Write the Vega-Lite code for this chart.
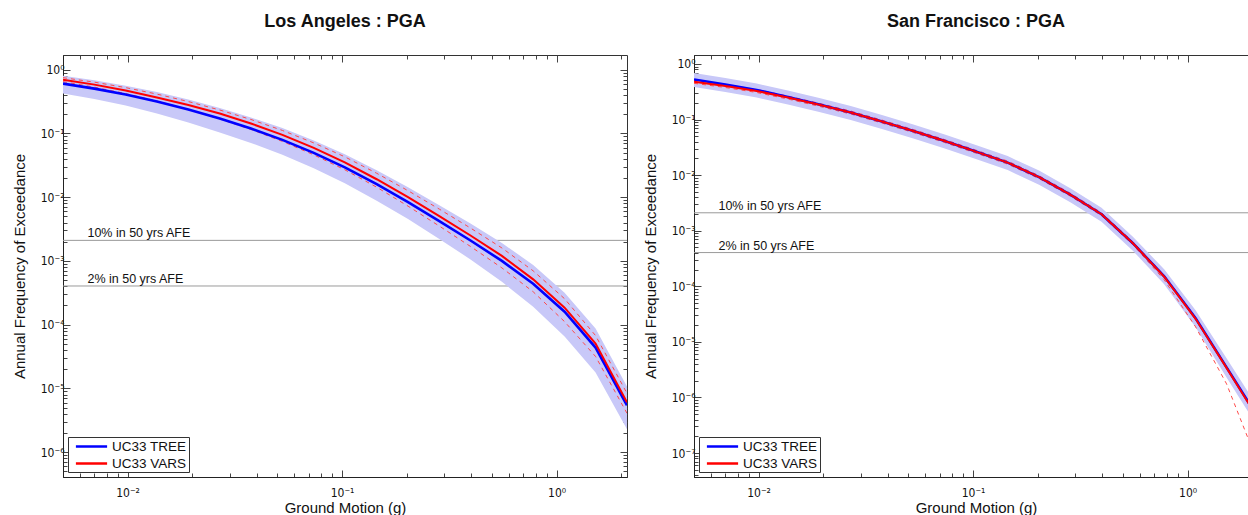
{
  "$schema": "https://vega.github.io/schema/vega-lite/v6.json",
  "padding": {"left": 11, "top": 12, "right": 0, "bottom": 0},
  "background": "white",
  "config": {
    "font": "Liberation Sans",
    "view": {"stroke": "#333", "strokeWidth": 1},
    "axis": {"grid": false, "labelFont": "DejaVu Sans Condensed", "labelFontSize": 12, "labelColor": "#111", "titleFont": "Liberation Sans", "titleFontSize": 15, "titleFontWeight": "normal", "titleColor": "#111", "domainColor": "#222", "tickColor": "#444"},
    "legend": {"orient": "bottom-left", "offset": 5, "strokeColor": "#333", "fillColor": "#ffffff", "padding": 2, "labelFont": "Liberation Sans", "labelFontSize": 13.5, "labelColor": "#111", "symbolType": "M-2.6,0H2.6", "symbolStrokeWidth": 2.5, "symbolSize": 144, "symbolOffset": 14, "rowPadding": 3, "labelOffset": 13, "cornerRadius": 0},
    "title": {"font": "Liberation Sans", "fontSize": 18, "fontWeight": "bold", "color": "#111", "offset": 24}
  },
  "datasets": {
    "curves": [
      {"city": "LA", "g": 0.005, "tree": 0.604, "vars": 0.6978, "lo": 0.4217, "hi": 0.8058, "dhi": 0.7499, "dlo": 0.6494},
      {"city": "LA", "g": 0.007, "tree": 0.505, "vars": 0.5829, "lo": 0.346, "hi": 0.6854, "dhi": 0.6379, "dlo": 0.5328},
      {"city": "LA", "g": 0.0098, "tree": 0.407, "vars": 0.4698, "lo": 0.2738, "hi": 0.5623, "dhi": 0.5233, "dlo": 0.4217},
      {"city": "LA", "g": 0.0137, "tree": 0.3162, "vars": 0.3652, "lo": 0.20535, "hi": 0.4451, "dhi": 0.4142, "dlo": 0.3219},
      {"city": "LA", "g": 0.0192, "tree": 0.2371, "vars": 0.2788, "lo": 0.1486, "hi": 0.3398, "dhi": 0.3162, "dlo": 0.2371},
      {"city": "LA", "g": 0.0269, "tree": 0.1716, "vars": 0.20535, "lo": 0.10366, "hi": 0.2503, "dhi": 0.23295, "dlo": 0.1685},
      {"city": "LA", "g": 0.0376, "tree": 0.1197, "vars": 0.14335, "lo": 0.07104, "hi": 0.1778, "dhi": 0.1655, "dlo": 0.11548},
      {"city": "LA", "g": 0.0527, "tree": 0.07914, "vars": 0.09476, "lo": 0.04614, "hi": 0.1219, "dhi": 0.11139, "dlo": 0.07499},
      {"city": "LA", "g": 0.0738, "tree": 0.04958, "vars": 0.05935, "lo": 0.02838, "hi": 0.07773, "dhi": 0.07104, "dlo": 0.04614},
      {"city": "LA", "g": 0.103, "tree": 0.02942, "vars": 0.035225, "lo": 0.016548, "hi": 0.04698, "dhi": 0.04294, "dlo": 0.0269},
      {"city": "LA", "g": 0.145, "tree": 0.015965, "vars": 0.019107, "lo": 0.008818, "hi": 0.02642, "dhi": 0.02371, "dlo": 0.014335},
      {"city": "LA", "g": 0.203, "tree": 0.008354, "vars": 0.01, "lo": 0.004532, "hi": 0.014335, "dhi": 0.012635, "dlo": 0.007233},
      {"city": "LA", "g": 0.284, "tree": 0.004217, "vars": 0.005048, "lo": 0.002207, "hi": 0.007499, "dhi": 0.006494, "dlo": 0.0035225},
      {"city": "LA", "g": 0.397, "tree": 0.0020906, "vars": 0.002503, "lo": 0.0010554, "hi": 0.003854, "dhi": 0.003278, "dlo": 0.001685},
      {"city": "LA", "g": 0.556, "tree": 0.001, "vars": 0.0011972, "lo": 0.0004698, "hi": 0.0019107, "dhi": 0.0015965, "dlo": 0.0007773},
      {"city": "LA", "g": 0.778, "tree": 0.0004371, "vars": 0.00051395, "lo": 0.00019107, "hi": 0.000866, "dhi": 0.0006978, "dlo": 0.0003278},
      {"city": "LA", "g": 1.09, "tree": 0.00015965, "vars": 0.0001843, "lo": 0.00006494, "hi": 0.00031623, "dhi": 0.00025485, "dlo": 0.00011139},
      {"city": "LA", "g": 1.52, "tree": 0.00004371, "vars": 0.00005048, "lo": 0.00001778, "hi": 0.0000866, "dhi": 0.00006732, "dlo": 0.00003162},
      {"city": "LA", "g": 2.13, "tree": 0.000005425, "vars": 0.00000604, "lo": 0.000002288, "hi": 0.000010746, "dhi": 0.000008354, "dlo": 0.000004068},
      {"city": "SF", "g": 0.005, "tree": 0.5255, "vars": 0.4779, "lo": 0.3852, "hi": 0.6884, "dhi": 0.5085, "dlo": 0.4492},
      {"city": "SF", "g": 0.007, "tree": 0.4272, "vars": 0.4014, "lo": 0.313, "hi": 0.5594, "dhi": 0.4271, "dlo": 0.3773},
      {"city": "SF", "g": 0.0098, "tree": 0.3401, "vars": 0.3262, "lo": 0.2491, "hi": 0.4453, "dhi": 0.3471, "dlo": 0.3066},
      {"city": "SF", "g": 0.0137, "tree": 0.2543, "vars": 0.2491, "lo": 0.1864, "hi": 0.3331, "dhi": 0.265, "dlo": 0.2341},
      {"city": "SF", "g": 0.0192, "tree": 0.1864, "vars": 0.184, "lo": 0.13648, "hi": 0.244, "dhi": 0.1958, "dlo": 0.1729},
      {"city": "SF", "g": 0.0269, "tree": 0.1337, "vars": 0.1337, "lo": 0.09795, "hi": 0.1751, "dhi": 0.1423, "dlo": 0.1257},
      {"city": "SF", "g": 0.0376, "tree": 0.092, "vars": 0.092, "lo": 0.06743, "hi": 0.12054, "dhi": 0.0979, "dlo": 0.08647},
      {"city": "SF", "g": 0.0527, "tree": 0.0621, "vars": 0.0621, "lo": 0.04546, "hi": 0.08126, "dhi": 0.0661, "dlo": 0.05836},
      {"city": "SF", "g": 0.0738, "tree": 0.041, "vars": 0.041, "lo": 0.03002, "hi": 0.05366, "dhi": 0.0436, "dlo": 0.03853},
      {"city": "SF", "g": 0.103, "tree": 0.02651, "vars": 0.02651, "lo": 0.01942, "hi": 0.03471, "dhi": 0.02821, "dlo": 0.02492},
      {"city": "SF", "g": 0.145, "tree": 0.0168, "vars": 0.0168, "lo": 0.012304, "hi": 0.02199, "dhi": 0.01788, "dlo": 0.01579},
      {"city": "SF", "g": 0.203, "tree": 0.009204, "vars": 0.009204, "lo": 0.006743, "hi": 0.012054, "dhi": 0.009793, "dlo": 0.00865},
      {"city": "SF", "g": 0.284, "tree": 0.004453, "vars": 0.004453, "lo": 0.003262, "hi": 0.005833, "dhi": 0.004738, "dlo": 0.004185},
      {"city": "SF", "g": 0.397, "tree": 0.001983, "vars": 0.001983, "lo": 0.0014529, "hi": 0.002597, "dhi": 0.00211, "dlo": 0.001864},
      {"city": "SF", "g": 0.556, "tree": 0.0005953, "vars": 0.0005953, "lo": 0.0004362, "hi": 0.0007796, "dhi": 0.0006334, "dlo": 0.0005595},
      {"city": "SF", "g": 0.778, "tree": 0.0001514, "vars": 0.00014834, "lo": 0.00010864, "hi": 0.00020243, "dhi": 0.00015783, "dlo": 0.00013095},
      {"city": "SF", "g": 1.09, "tree": 0.00002651, "vars": 0.00002597, "lo": 0.00001825, "hi": 0.00003694, "dhi": 0.00002763, "dlo": 0.000018637},
      {"city": "SF", "g": 1.52, "tree": 0.000003471, "vars": 0.0000034, "lo": 0.000002293, "hi": 0.000005043, "dhi": 0.000003618, "dlo": 0.000001751},
      {"city": "SF", "g": 2.13, "tree": 0.0000004362, "vars": 0.0000004183, "lo": 0.000000288, "hi": 0.0000006604, "dhi": 0.0000004451, "dlo": 0.00000006468}
    ],
    "afe": [
      {"city": "LA", "afe": 0.0021, "gx": 0.0065, "label": "10% in 50 yrs AFE"},
      {"city": "LA", "afe": 0.000404, "gx": 0.0065, "label": "2% in 50 yrs AFE"},
      {"city": "SF", "afe": 0.0021, "gx": 0.0065, "label": "10% in 50 yrs AFE"},
      {"city": "SF", "afe": 0.000404, "gx": 0.0065, "label": "2% in 50 yrs AFE"}
    ]
  },
  "resolve": {"scale": {"color": "independent"}, "legend": {"color": "independent"}},
  "spacing": 14,
  "hconcat": [
    {
      "width": 564,
      "height": 422,
      "title": "Los Angeles : PGA",
      "resolve": {"axis": {"x": "independent", "y": "independent"}},
      "layer": [
        {
          "data": {"name": "afe"},
          "transform": [{"filter": "datum.city === 'LA'"}],
          "mark": {"type": "rule", "color": "#9a9a9a", "strokeWidth": 1},
          "encoding": {
            "y": {"field": "afe", "type": "quantitative",
              "scale": {"type": "log", "domain": [0.000000407, 1.7], "nice": false},
              "axis": {"title": "Annual Frequency of Exceedance", "titlePadding": 13, "labelPadding": 6,
                "values": [5e-7,6e-7,7e-7,8e-7,9e-7,1e-6,2e-6,3e-6,4e-6,5e-6,6e-6,7e-6,8e-6,9e-6,1e-5,2e-5,3e-5,4e-5,5e-5,6e-5,7e-5,8e-5,9e-5,1e-4,2e-4,3e-4,4e-4,5e-4,6e-4,7e-4,8e-4,9e-4,0.001,0.002,0.003,0.004,0.005,0.006,0.007,0.008,0.009,0.01,0.02,0.03,0.04,0.05,0.06,0.07,0.08,0.09,0.1,0.2,0.3,0.4,0.5,0.6,0.7,0.8,0.9,1],
                "labelExpr": "abs(log(datum.value)/LN10 - round(log(datum.value)/LN10)) < 0.001 ? '10' + (round(log(datum.value)/LN10) < 0 ? '⁻' : '') + ['⁰','¹','²','³','⁴','⁵','⁶','⁷','⁸','⁹'][abs(round(log(datum.value)/LN10))] : ''",
                "tickSize": {"condition": {"test": "abs(log(datum.value)/LN10 - round(log(datum.value)/LN10)) < 0.001", "value": -7}, "value": -4}
              }
            }
          }
        },
        {
          "data": {"name": "afe"},
          "transform": [{"filter": "datum.city === 'LA'"}],
          "mark": {"type": "text", "align": "left", "baseline": "alphabetic", "dy": -3, "fontSize": 12.5, "color": "#111"},
          "encoding": {
            "x": {"field": "gx", "type": "quantitative",
              "axis": {"orient": "top", "labels": false, "title": null, "domain": false,
                "values": [0.005,0.006,0.007,0.008,0.009,0.01,0.02,0.03,0.04,0.05,0.06,0.07,0.08,0.09,0.1,0.2,0.3,0.4,0.5,0.6,0.7,0.8,0.9,1,2],
                "tickSize": {"condition": {"test": "abs(log(datum.value)/LN10 - round(log(datum.value)/LN10)) < 0.001", "value": -7}, "value": -4}}},
            "y": {"field": "afe", "type": "quantitative",
              "axis": {"orient": "right", "labels": false, "title": null, "domain": false,
                "values": [5e-7,6e-7,7e-7,8e-7,9e-7,1e-6,2e-6,3e-6,4e-6,5e-6,6e-6,7e-6,8e-6,9e-6,1e-5,2e-5,3e-5,4e-5,5e-5,6e-5,7e-5,8e-5,9e-5,1e-4,2e-4,3e-4,4e-4,5e-4,6e-4,7e-4,8e-4,9e-4,0.001,0.002,0.003,0.004,0.005,0.006,0.007,0.008,0.009,0.01,0.02,0.03,0.04,0.05,0.06,0.07,0.08,0.09,0.1,0.2,0.3,0.4,0.5,0.6,0.7,0.8,0.9,1],
                "tickSize": {"condition": {"test": "abs(log(datum.value)/LN10 - round(log(datum.value)/LN10)) < 0.001", "value": -7}, "value": -4}}},
            "text": {"field": "label"}
          }
        },
        {
          "data": {"name": "curves"},
          "transform": [{"filter": "datum.city === 'LA'"}],
          "mark": {"type": "area", "color": "#c8c8f8", "opacity": 1, "clip": true},
          "encoding": {
            "x": {"field": "g", "type": "quantitative",
              "scale": {"type": "log", "domain": [0.005, 2.13], "nice": false},
              "axis": {"title": "Ground Motion (g)", "titlePadding": 2, "labelPadding": 17,
                "values": [0.005,0.006,0.007,0.008,0.009,0.01,0.02,0.03,0.04,0.05,0.06,0.07,0.08,0.09,0.1,0.2,0.3,0.4,0.5,0.6,0.7,0.8,0.9,1,2],
                "labelExpr": "abs(log(datum.value)/LN10 - round(log(datum.value)/LN10)) < 0.001 ? '10' + (round(log(datum.value)/LN10) < 0 ? '⁻' : '') + ['⁰','¹','²','³','⁴','⁵','⁶','⁷','⁸','⁹'][abs(round(log(datum.value)/LN10))] : ''",
                "tickSize": {"condition": {"test": "abs(log(datum.value)/LN10 - round(log(datum.value)/LN10)) < 0.001", "value": -7}, "value": -4}
              }
            },
            "y": {"field": "lo", "type": "quantitative", "axis": null},
            "y2": {"field": "hi"}
          }
        },
        {
          "data": {"name": "curves"},
          "transform": [{"filter": "datum.city === 'LA'"}, {"fold": ["dhi", "dlo"], "as": ["k", "v"]}],
          "mark": {"type": "line", "color": "#ff4a4a", "strokeWidth": 1, "strokeDash": [4, 4], "clip": true},
          "encoding": {
            "x": {"field": "g", "type": "quantitative", "axis": null},
            "y": {"field": "v", "type": "quantitative", "axis": null},
            "detail": {"field": "k"}
          }
        },
        {
          "data": {"name": "curves"},
          "transform": [{"filter": "datum.city === 'LA'"}],
          "mark": {"type": "line", "strokeWidth": 2.6, "clip": true},
          "encoding": {
            "x": {"field": "g", "type": "quantitative", "axis": null},
            "y": {"field": "tree", "type": "quantitative", "axis": null},
            "color": {"datum": "UC33 TREE", "scale": {"domain": ["UC33 TREE", "UC33 VARS"], "range": ["#0000ff", "#ff0000"]}, "legend": {"title": null}}
          }
        },
        {
          "data": {"name": "curves"},
          "transform": [{"filter": "datum.city === 'LA'"}],
          "mark": {"type": "line", "strokeWidth": 2, "clip": true},
          "encoding": {
            "x": {"field": "g", "type": "quantitative", "axis": null},
            "y": {"field": "vars", "type": "quantitative", "axis": null},
            "color": {"datum": "UC33 VARS"}
          }
        }
      ]
    },
    {
      "width": 564,
      "height": 422,
      "title": "San Francisco : PGA",
      "resolve": {"axis": {"x": "independent", "y": "independent"}},
      "layer": [
        {
          "data": {"name": "afe"},
          "transform": [{"filter": "datum.city === 'SF'"}],
          "mark": {"type": "rule", "color": "#9a9a9a", "strokeWidth": 1},
          "encoding": {
            "y": {"field": "afe", "type": "quantitative",
              "scale": {"type": "log", "domain": [0.000000037, 1.45], "nice": false},
              "axis": {"title": "Annual Frequency of Exceedance", "titlePadding": 13, "labelPadding": 6,
                "values": [4e-8,5e-8,6e-8,7e-8,8e-8,9e-8,1e-7,2e-7,3e-7,4e-7,5e-7,6e-7,7e-7,8e-7,9e-7,1e-6,2e-6,3e-6,4e-6,5e-6,6e-6,7e-6,8e-6,9e-6,1e-5,2e-5,3e-5,4e-5,5e-5,6e-5,7e-5,8e-5,9e-5,1e-4,2e-4,3e-4,4e-4,5e-4,6e-4,7e-4,8e-4,9e-4,0.001,0.002,0.003,0.004,0.005,0.006,0.007,0.008,0.009,0.01,0.02,0.03,0.04,0.05,0.06,0.07,0.08,0.09,0.1,0.2,0.3,0.4,0.5,0.6,0.7,0.8,0.9,1],
                "labelExpr": "abs(log(datum.value)/LN10 - round(log(datum.value)/LN10)) < 0.001 ? '10' + (round(log(datum.value)/LN10) < 0 ? '⁻' : '') + ['⁰','¹','²','³','⁴','⁵','⁶','⁷','⁸','⁹'][abs(round(log(datum.value)/LN10))] : ''",
                "tickSize": {"condition": {"test": "abs(log(datum.value)/LN10 - round(log(datum.value)/LN10)) < 0.001", "value": -7}, "value": -4}
              }
            }
          }
        },
        {
          "data": {"name": "afe"},
          "transform": [{"filter": "datum.city === 'SF'"}],
          "mark": {"type": "text", "align": "left", "baseline": "alphabetic", "dy": -3, "fontSize": 12.5, "color": "#111"},
          "encoding": {
            "x": {"field": "gx", "type": "quantitative",
              "axis": {"orient": "top", "labels": false, "title": null, "domain": false,
                "values": [0.005,0.006,0.007,0.008,0.009,0.01,0.02,0.03,0.04,0.05,0.06,0.07,0.08,0.09,0.1,0.2,0.3,0.4,0.5,0.6,0.7,0.8,0.9,1,2],
                "tickSize": {"condition": {"test": "abs(log(datum.value)/LN10 - round(log(datum.value)/LN10)) < 0.001", "value": -7}, "value": -4}}},
            "y": {"field": "afe", "type": "quantitative", "axis": null},
            "text": {"field": "label"}
          }
        },
        {
          "data": {"name": "curves"},
          "transform": [{"filter": "datum.city === 'SF'"}],
          "mark": {"type": "area", "color": "#c8c8f8", "opacity": 1, "clip": true},
          "encoding": {
            "x": {"field": "g", "type": "quantitative",
              "scale": {"type": "log", "domain": [0.005, 2.13], "nice": false},
              "axis": {"title": "Ground Motion (g)", "titlePadding": 2, "labelPadding": 17,
                "values": [0.005,0.006,0.007,0.008,0.009,0.01,0.02,0.03,0.04,0.05,0.06,0.07,0.08,0.09,0.1,0.2,0.3,0.4,0.5,0.6,0.7,0.8,0.9,1,2],
                "labelExpr": "abs(log(datum.value)/LN10 - round(log(datum.value)/LN10)) < 0.001 ? '10' + (round(log(datum.value)/LN10) < 0 ? '⁻' : '') + ['⁰','¹','²','³','⁴','⁵','⁶','⁷','⁸','⁹'][abs(round(log(datum.value)/LN10))] : ''",
                "tickSize": {"condition": {"test": "abs(log(datum.value)/LN10 - round(log(datum.value)/LN10)) < 0.001", "value": -7}, "value": -4}
              }
            },
            "y": {"field": "lo", "type": "quantitative", "axis": null},
            "y2": {"field": "hi"}
          }
        },
        {
          "data": {"name": "curves"},
          "transform": [{"filter": "datum.city === 'SF'"}, {"fold": ["dhi", "dlo"], "as": ["k", "v"]}],
          "mark": {"type": "line", "color": "#ff4a4a", "strokeWidth": 1, "strokeDash": [4, 4], "clip": true},
          "encoding": {
            "x": {"field": "g", "type": "quantitative", "axis": null},
            "y": {"field": "v", "type": "quantitative", "axis": null},
            "detail": {"field": "k"}
          }
        },
        {
          "data": {"name": "curves"},
          "transform": [{"filter": "datum.city === 'SF'"}],
          "mark": {"type": "line", "strokeWidth": 2.6, "clip": true},
          "encoding": {
            "x": {"field": "g", "type": "quantitative", "axis": null},
            "y": {"field": "tree", "type": "quantitative", "axis": null},
            "color": {"datum": "UC33 TREE", "scale": {"domain": ["UC33 TREE", "UC33 VARS"], "range": ["#0000ff", "#ff0000"]}, "legend": {"title": null}}
          }
        },
        {
          "data": {"name": "curves"},
          "transform": [{"filter": "datum.city === 'SF'"}],
          "mark": {"type": "line", "strokeWidth": 2, "clip": true},
          "encoding": {
            "x": {"field": "g", "type": "quantitative", "axis": null},
            "y": {"field": "vars", "type": "quantitative", "axis": null},
            "color": {"datum": "UC33 VARS"}
          }
        }
      ]
    }
  ]
}
